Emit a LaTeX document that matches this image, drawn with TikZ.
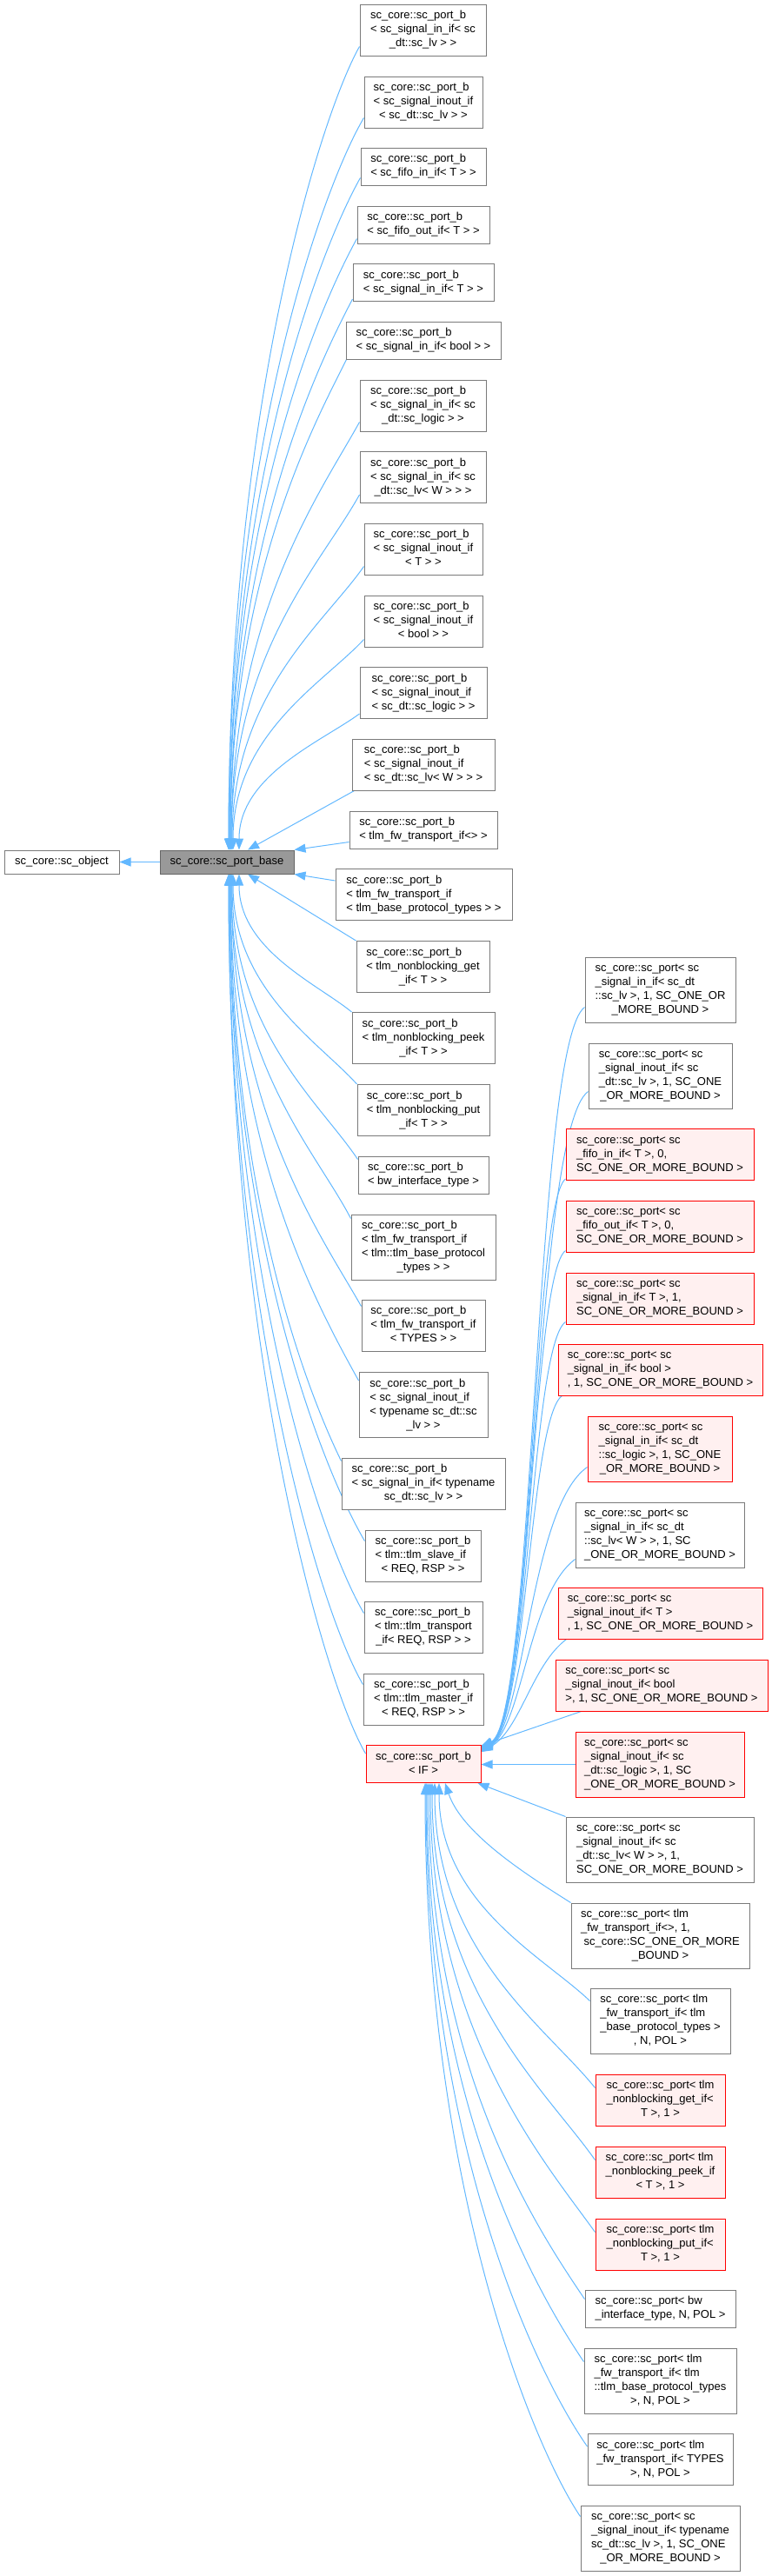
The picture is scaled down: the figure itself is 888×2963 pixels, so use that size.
\documentclass[tikz,border=0pt]{standalone}
\usepackage{fontspec}
\setmainfont{Liberation Sans}
\usetikzlibrary{arrows.meta}
\pgfdeclarelayer{background}
\pgfsetlayers{background,main}
\definecolor{edgeblue}{HTML}{63B8FF}
\definecolor{boxgray}{HTML}{7A7A7A}
\definecolor{basefill}{HTML}{999999}
\definecolor{baseline}{HTML}{666666}
\definecolor{redfill}{HTML}{FFF0F0}
\definecolor{redline}{HTML}{FF0000}
\newcommand{\ml}[2]{\begin{tabular}{@{}l@{}}#1\multicolumn{1}{@{}c@{}}{#2}\end{tabular}}
\begin{document}
\begin{tikzpicture}[x=1pt,y=-1pt,
  inh/.style={draw=edgeblue,line width=1pt,-{Triangle[length=13pt,width=10pt]}},
  nb/.style={draw=boxgray,fill=white,line width=1pt,inner sep=0pt,font=\fontsize{13pt}{16pt}\selectfont},
  rb/.style={nb,draw=redline,fill=redfill},
  bb/.style={nb,draw=baseline,fill=basefill}]
\useasboundingbox (0,0) rectangle (888,2963);

\node[nb,minimum width=132pt,minimum height=27pt] (obj) at (71,991.5) {sc\_core::sc\_object};
\node[bb,minimum width=154pt,minimum height=27pt] (base) at (261,991.5) {sc\_core::sc\_port\_base};

\node[nb,minimum width=145pt,minimum height=59pt] (b1) at (486.5,34.5) {\ml{sc\_core::sc\_port\_b\\< sc\_signal\_in\_if< sc\\}{\_dt::sc\_lv > >}};
\node[nb,minimum width=136pt,minimum height=59pt] (b2) at (487,117.5) {\ml{sc\_core::sc\_port\_b\\< sc\_signal\_inout\_if\\}{< sc\_dt::sc\_lv > >}};
\node[nb,minimum width=144pt,minimum height=43pt] (b3) at (487,191.5) {\ml{sc\_core::sc\_port\_b\\}{< sc\_fifo\_in\_if< T > >}};
\node[nb,minimum width=152pt,minimum height=43pt] (b4) at (487,258.5) {\ml{sc\_core::sc\_port\_b\\}{< sc\_fifo\_out\_if< T > >}};
\node[nb,minimum width=162pt,minimum height=43pt] (b5) at (487,325) {\ml{sc\_core::sc\_port\_b\\}{< sc\_signal\_in\_if< T > >}};
\node[nb,minimum width=178pt,minimum height=43pt] (b6) at (487,391.5) {\ml{sc\_core::sc\_port\_b\\}{< sc\_signal\_in\_if< bool > >}};
\node[nb,minimum width=145pt,minimum height=59pt] (b7) at (486.5,466.5) {\ml{sc\_core::sc\_port\_b\\< sc\_signal\_in\_if< sc\\}{\_dt::sc\_logic > >}};
\node[nb,minimum width=145pt,minimum height=59pt] (b8) at (486.5,549) {\ml{sc\_core::sc\_port\_b\\< sc\_signal\_in\_if< sc\\}{\_dt::sc\_lv< W > > >}};
\node[nb,minimum width=136pt,minimum height=59pt] (b9) at (487,631.5) {\ml{sc\_core::sc\_port\_b\\< sc\_signal\_inout\_if\\}{< T > >}};
\node[nb,minimum width=136pt,minimum height=59pt] (b10) at (487,714.5) {\ml{sc\_core::sc\_port\_b\\< sc\_signal\_inout\_if\\}{< bool > >}};
\node[nb,minimum width=146pt,minimum height=59pt] (b11) at (487,797) {\ml{sc\_core::sc\_port\_b\\< sc\_signal\_inout\_if\\}{< sc\_dt::sc\_logic > >}};
\node[nb,minimum width=164pt,minimum height=59pt] (b12) at (487,879.5) {\ml{sc\_core::sc\_port\_b\\< sc\_signal\_inout\_if\\}{< sc\_dt::sc\_lv< W > > >}};
\node[nb,minimum width=170pt,minimum height=43pt] (b13) at (487,954.5) {\ml{sc\_core::sc\_port\_b\\}{< tlm\_fw\_transport\_if<> >}};
\node[nb,minimum width=203pt,minimum height=59pt] (b14) at (487.5,1029) {\ml{sc\_core::sc\_port\_b\\< tlm\_fw\_transport\_if\\}{< tlm\_base\_protocol\_types > >}};
\node[nb,minimum width=153pt,minimum height=59pt] (b15) at (486.5,1112) {\ml{sc\_core::sc\_port\_b\\< tlm\_nonblocking\_get\\}{\_if< T > >}};
\node[nb,minimum width=164pt,minimum height=59pt] (b16) at (487,1194) {\ml{sc\_core::sc\_port\_b\\< tlm\_nonblocking\_peek\\}{\_if< T > >}};
\node[nb,minimum width=152pt,minimum height=59pt] (b17) at (487,1277) {\ml{sc\_core::sc\_port\_b\\< tlm\_nonblocking\_put\\}{\_if< T > >}};
\node[nb,minimum width=150pt,minimum height=43pt] (b18) at (487,1351.5) {\ml{sc\_core::sc\_port\_b\\}{< bw\_interface\_type >}};
\node[nb,minimum width=166pt,minimum height=75pt] (b19) at (487,1434.5) {\ml{sc\_core::sc\_port\_b\\< tlm\_fw\_transport\_if\\< tlm::tlm\_base\_protocol\\}{\_types > >}};
\node[nb,minimum width=142pt,minimum height=59pt] (b20) at (487,1524.5) {\ml{sc\_core::sc\_port\_b\\< tlm\_fw\_transport\_if\\}{< TYPES > >}};
\node[nb,minimum width=148pt,minimum height=75pt] (b21) at (487,1616) {\ml{sc\_core::sc\_port\_b\\< sc\_signal\_inout\_if\\< typename sc\_dt::sc\\}{\_lv > >}};
\node[nb,minimum width=188pt,minimum height=59pt] (b22) at (487,1706.5) {\ml{sc\_core::sc\_port\_b\\< sc\_signal\_in\_if< typename\\}{sc\_dt::sc\_lv > >}};
\node[nb,minimum width=133pt,minimum height=59pt] (b23) at (486.5,1789.5) {\ml{sc\_core::sc\_port\_b\\< tlm::tlm\_slave\_if\\}{< REQ, RSP > >}};
\node[nb,minimum width=136pt,minimum height=59pt] (b24) at (487,1871.5) {\ml{sc\_core::sc\_port\_b\\< tlm::tlm\_transport\\}{\_if< REQ, RSP > >}};
\node[nb,minimum width=138pt,minimum height=59pt] (b25) at (487,1954.5) {\ml{sc\_core::sc\_port\_b\\< tlm::tlm\_master\_if\\}{< REQ, RSP > >}};
\node[rb,minimum width=132pt,minimum height=43pt] (bIF) at (487,2029) {\ml{sc\_core::sc\_port\_b\\}{< IF >}};

\node[nb,minimum width=173pt,minimum height=75pt] (R1) at (759.5,1138.5) {\ml{sc\_core::sc\_port< sc\\\_signal\_in\_if< sc\_dt\\::sc\_lv >, 1, SC\_ONE\_OR\\}{\_MORE\_BOUND >}};
\node[nb,minimum width=165pt,minimum height=75pt] (R2) at (759.5,1237.5) {\ml{sc\_core::sc\_port< sc\\\_signal\_inout\_if< sc\\\_dt::sc\_lv >, 1, SC\_ONE\\}{\_OR\_MORE\_BOUND >}};
\node[rb,minimum width=216pt,minimum height=59pt] (R3) at (759,1328) {\ml{sc\_core::sc\_port< sc\\\_fifo\_in\_if< T >, 0,\\}{SC\_ONE\_OR\_MORE\_BOUND >}};
\node[rb,minimum width=216pt,minimum height=59pt] (R4) at (759,1410.5) {\ml{sc\_core::sc\_port< sc\\\_fifo\_out\_if< T >, 0,\\}{SC\_ONE\_OR\_MORE\_BOUND >}};
\node[rb,minimum width=216pt,minimum height=59pt] (R5) at (759,1493.5) {\ml{sc\_core::sc\_port< sc\\\_signal\_in\_if< T >, 1,\\}{SC\_ONE\_OR\_MORE\_BOUND >}};
\node[rb,minimum width=235pt,minimum height=59pt] (R6) at (759.5,1575.5) {\ml{sc\_core::sc\_port< sc\\\_signal\_in\_if< bool >\\}{, 1, SC\_ONE\_OR\_MORE\_BOUND >}};
\node[rb,minimum width=166pt,minimum height=75pt] (R7) at (759,1666.5) {\ml{sc\_core::sc\_port< sc\\\_signal\_in\_if< sc\_dt\\::sc\_logic >, 1, SC\_ONE\\}{\_OR\_MORE\_BOUND >}};
\node[nb,minimum width=194pt,minimum height=75pt] (R8) at (759,1765.5) {\ml{sc\_core::sc\_port< sc\\\_signal\_in\_if< sc\_dt\\::sc\_lv< W > >, 1, SC\\}{\_ONE\_OR\_MORE\_BOUND >}};
\node[rb,minimum width=235pt,minimum height=59pt] (R9) at (759.5,1855.5) {\ml{sc\_core::sc\_port< sc\\\_signal\_inout\_if< T >\\}{, 1, SC\_ONE\_OR\_MORE\_BOUND >}};
\node[rb,minimum width=244pt,minimum height=59pt] (R10) at (761,1938.5) {\ml{sc\_core::sc\_port< sc\\\_signal\_inout\_if< bool\\}{>, 1, SC\_ONE\_OR\_MORE\_BOUND >}};
\node[rb,minimum width=194pt,minimum height=75pt] (R11) at (759,2029.5) {\ml{sc\_core::sc\_port< sc\\\_signal\_inout\_if< sc\\\_dt::sc\_logic >, 1, SC\\}{\_ONE\_OR\_MORE\_BOUND >}};
\node[nb,minimum width=216pt,minimum height=75pt] (R12) at (759,2127.5) {\ml{sc\_core::sc\_port< sc\\\_signal\_inout\_if< sc\\\_dt::sc\_lv< W > >, 1,\\}{SC\_ONE\_OR\_MORE\_BOUND >}};
\node[nb,minimum width=205pt,minimum height=75pt] (R13) at (759.5,2226.5) {\ml{sc\_core::sc\_port< tlm\\\_fw\_transport\_if<>, 1,\\\ sc\_core::SC\_ONE\_OR\_MORE\\}{\_BOUND >}};
\node[nb,minimum width=161pt,minimum height=75pt] (R14) at (759.5,2324.5) {\ml{sc\_core::sc\_port< tlm\\\_fw\_transport\_if< tlm\\\_base\_protocol\_types >\\}{, N, POL >}};
\node[rb,minimum width=149pt,minimum height=59pt] (R15) at (759.5,2415.5) {\ml{sc\_core::sc\_port< tlm\\\_nonblocking\_get\_if<\\}{T >, 1 >}};
\node[rb,minimum width=149pt,minimum height=59pt] (R16) at (759.5,2498.5) {\ml{sc\_core::sc\_port< tlm\\\_nonblocking\_peek\_if\\}{< T >, 1 >}};
\node[rb,minimum width=149pt,minimum height=59pt] (R17) at (759.5,2581.5) {\ml{sc\_core::sc\_port< tlm\\\_nonblocking\_put\_if<\\}{T >, 1 >}};
\node[nb,minimum width=173pt,minimum height=43pt] (R18) at (759.5,2655.5) {\ml{sc\_core::sc\_port< bw\\}{\_interface\_type, N, POL >}};
\node[nb,minimum width=175pt,minimum height=75pt] (R19) at (759.5,2738.5) {\ml{sc\_core::sc\_port< tlm\\\_fw\_transport\_if< tlm\\::tlm\_base\_protocol\_types\\}{>, N, POL >}};
\node[nb,minimum width=167pt,minimum height=59pt] (R20) at (759.5,2829) {\ml{sc\_core::sc\_port< tlm\\\_fw\_transport\_if< TYPES\\}{>, N, POL >}};
\node[nb,minimum width=183pt,minimum height=75pt] (R21) at (759.5,2919.5) {\ml{sc\_core::sc\_port< sc\\\_signal\_inout\_if< typename\\sc\_dt::sc\_lv >, 1, SC\_ONE\\}{\_OR\_MORE\_BOUND >}};

\begin{pgfonlayer}{background}
\draw[inh] (base.west) -- (obj.east);
% upper group to base top
\draw[inh] ([yshift=11pt]b1.south west) .. controls +(-45,80) and +(0,-509) .. ([xshift=2pt]base.north);
\draw[inh] ([yshift=12pt]b2.south west) .. controls +(-47,80) and +(0,-464) .. ([xshift=2pt]base.north);
\draw[inh] ([yshift=9pt]b3.south west) .. controls +(-45,80) and +(0,-426) .. ([xshift=3pt]base.north);
\draw[inh] ([yshift=6pt]b4.south west) .. controls +(-44,80) and +(0,-387) .. ([xshift=3pt]base.north);
\draw[inh] ([yshift=3pt]b5.south west) .. controls +(-42,80) and +(0,-349) .. ([xshift=4pt]base.north);
\draw[inh] ([xshift=1pt]b6.south west) .. controls +(-40,80) and +(0,-311) .. ([xshift=4pt]base.north);
\draw[inh] ([yshift=11pt]b7.south west) .. controls +(-44,80) and +(0,-271) .. ([xshift=5pt]base.north);
\draw[inh] ([yshift=10pt]b8.south west) .. controls +(-44,80) and +(0,-226) .. ([xshift=5pt]base.north);
\draw[inh] ([yshift=10pt]b9.south west) .. controls +(-45,65) and +(0,-180) .. ([xshift=6pt]base.north);
\draw[inh] ([yshift=9pt]b10.south west) .. controls +(-45,49) and +(0,-134) .. ([xshift=7pt]base.north);
\draw[inh] ([yshift=6pt]b11.south west) .. controls +(-42,31) and +(0,-86) .. ([xshift=14pt]base.north);
\draw[inh] ([xshift=3pt]b12.south west) -- ([xshift=24pt]base.north);
\draw[inh] ([yshift=8pt]b13.south west) -- (base.north east);
\draw[inh] ([yshift=-14pt]b14.north west) -- (base.south east);
% lower group to base bottom
\draw[inh] (b15.north west) -- ([xshift=24pt]base.south);
\draw[inh] (b16.north west) .. controls +(-39,-32) and +(0,87) .. ([xshift=14pt]base.south);
\draw[inh] (b17.north west) .. controls +(-43,-48) and +(0,133) .. ([xshift=7pt]base.south);
\draw[inh] ([yshift=-4pt]b18.north west) .. controls +(-44,-66) and +(0,181) .. ([xshift=6pt]base.south);
\draw[inh] ([yshift=-5pt]b19.north west) .. controls +(-41,-79) and +(0,218) .. ([xshift=5pt]base.south);
\draw[inh] ([yshift=-8pt]b20.north west) .. controls +(-45,-80) and +(0,274) .. ([xshift=5pt]base.south);
\draw[inh] ([yshift=-10pt]b21.north west) .. controls +(-44,-80) and +(0,321) .. ([xshift=4pt]base.south);
\draw[inh] ([yshift=-4pt]b22.north west) .. controls +(-39,-80) and +(0,371) .. ([xshift=4pt]base.south);
\draw[inh] ([yshift=-13pt]b23.north west) .. controls +(-47,-80) and +(0,422) .. ([xshift=3pt]base.south);
\draw[inh] ([yshift=-14pt]b24.north west) .. controls +(-47,-80) and +(0,468) .. ([xshift=3pt]base.south);
\draw[inh] ([yshift=-13pt]b25.north west) .. controls +(-47,-80) and +(0,513) .. ([xshift=2pt]base.south);
\draw[inh] ([yshift=-10pt]bIF.north west) .. controls +(-47,-80) and +(0,557) .. ([xshift=2pt]base.south);
% right upper group to bIF
\draw[inh] ([yshift=18pt]R1.south west) .. controls +(-58,42) and +(62,-30) .. ([yshift=-2pt]bIF.north east);
\draw[inh] ([yshift=20pt]R2.south west) .. controls +(-62,44) and +(60,-30) .. ([yshift=-3pt]bIF.north east);
\draw[inh] ([yshift=2pt]R3.south west) .. controls +(-38,28) and +(58,-30) .. ([yshift=-4pt]bIF.north east);
\draw[inh] ([yshift=2pt]R4.south west) .. controls +(-39,28) and +(56,-30) .. ([yshift=-5pt]bIF.north east);
\draw[inh] ([yshift=3pt]R5.south west) .. controls +(-40,28) and +(54,-30) .. ([yshift=-6pt]bIF.north east);
\draw[inh] ([xshift=5pt]R6.south west) .. controls +(-37,26) and +(52,-30) .. ([yshift=-6pt]bIF.north east);
\draw[inh] ([yshift=17pt]R7.south west) .. controls +(-66,46) and +(50,-30) .. ([yshift=-7pt]bIF.north east);
\draw[inh] ([yshift=10pt]R8.south west) .. controls +(-54,40) and +(48,-30) .. ([yshift=-8pt]bIF.north east);
\draw[inh] ([xshift=10pt]R9.south west) .. controls +(-40,30) and +(45,-25) .. ([yshift=-8pt]bIF.north east);
\draw[inh] ([xshift=30pt]R10.south west) -- ([yshift=-1pt]bIF.north east);
\draw[inh] (R11.west) -- (R11.west -| bIF.east);
\draw[inh] (R12.north west) -- ([xshift=-4pt]bIF.south east);
% right lower group to bIF bottom
\draw[inh] (R13.north west) .. controls +(-44,-28) and +(20,60) .. ([xshift=25pt]bIF.south);
\draw[inh] ([yshift=-15pt]R14.north west) .. controls +(-52,-50) and +(0,139) .. ([xshift=18pt]bIF.south);
\draw[inh] ([yshift=-16pt]R15.north west) .. controls +(-56,-70) and +(0,194) .. ([xshift=13pt]bIF.south);
\draw[inh] ([yshift=-16pt]R16.north west) .. controls +(-56,-80) and +(0,239) .. ([xshift=10pt]bIF.south);
\draw[inh] ([yshift=-16pt]R17.north west) .. controls +(-57,-80) and +(0,285) .. ([xshift=8pt]bIF.south);
\draw[inh] ([yshift=-11pt]R18.north west) .. controls +(-54,-80) and +(0,327) .. ([xshift=6pt]bIF.south);
\draw[inh] ([yshift=-16pt]R19.north west) .. controls +(-54,-80) and +(0,367) .. ([xshift=4pt]bIF.south);
\draw[inh] ([yshift=-15pt]R20.north west) .. controls +(-56,-80) and +(0,421) .. ([xshift=3pt]bIF.south);
\draw[inh] ([yshift=-13pt]R21.north west) .. controls +(-54,-80) and +(0,465) .. ([xshift=2pt]bIF.south);
\end{pgfonlayer}
\end{tikzpicture}
\end{document}
